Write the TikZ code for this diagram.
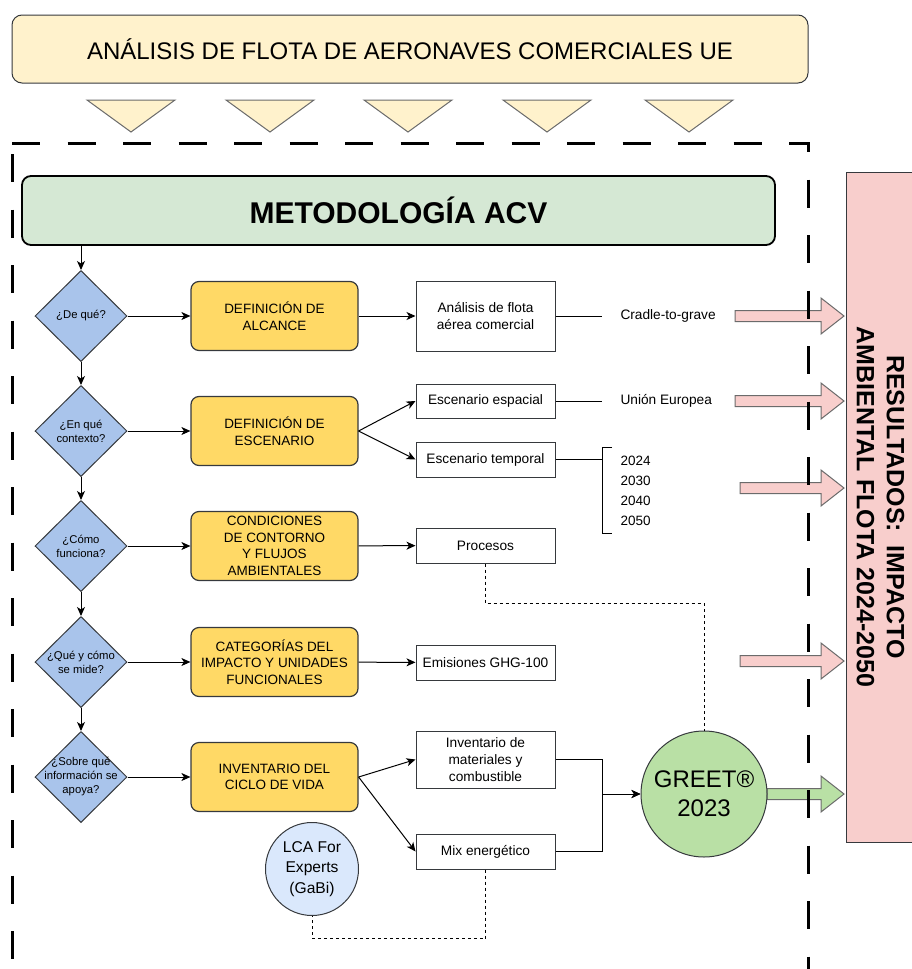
\documentclass[tikz,border=0pt]{standalone}
\usepackage{fontspec}
\setmainfont{Liberation Sans}
\usetikzlibrary{arrows.meta, positioning, shapes.geometric}
\definecolor{ccream}{HTML}{FFF2CC}
\definecolor{cmint}{HTML}{D5E8D4}
\definecolor{cblue}{HTML}{A9C4EB}
\definecolor{cyellow}{HTML}{FFD966}
\definecolor{cgreen}{HTML}{B9E0A5}
\definecolor{clight}{HTML}{DAE8FC}
\definecolor{cpink}{HTML}{F8CECC}
\definecolor{cdark}{HTML}{36393D}
\definecolor{cgrey}{HTML}{6B6B6B}
\tikzset{
  every picture/.style={line width=1pt},
  banner/.style={draw=cdark, fill=ccream, rounded corners=10pt, minimum width=796pt, minimum height=68pt, font=\fontsize{24}{28}\selectfont},
  header/.style={draw=black, fill=cmint, rounded corners=9pt, line width=1.8pt, minimum width=753pt, minimum height=69pt, font=\fontsize{30}{34}\selectfont\bfseries},
  pregunta/.style={diamond, draw=cdark, fill=cblue, minimum width=92pt, minimum height=91pt, inner sep=0pt, label={[qtext]center:#1}},
  qtext/.style={align=center, inner sep=0pt, font=\fontsize{11.3}{14}\selectfont},
  paso/.style={draw=cdark, fill=cyellow, rounded corners=8pt, line width=1.2pt, minimum width=167pt, minimum height=69pt, align=center, font=\fontsize{13.5}{16.5}\selectfont},
  wbox/.style={draw=cdark, fill=white, minimum width=139pt, minimum height=#1, inner sep=2pt, align=center, font=\fontsize{13.7}{16.8}\selectfont},
  wbox/.default=35pt,
  dato/.style={inner xsep=18pt, font=\fontsize{13.7}{16.8}\selectfont},
  tool/.style={circle, draw=cdark, fill=#1, inner sep=0pt, align=center},
  resultado/.style={draw=cdark, fill=cpink, rotate=-90, minimum width=670pt, minimum height=69pt, align=center, font=\fontsize{25}{30}\selectfont\bfseries},
  arrow/.style={-{Stealth[length=9pt, width=8pt, inset=2.5pt]}, draw=black},
  link/.style={draw=black, dash pattern=on 3pt off 3pt},
  limit/.style={draw=black, line width=3pt, dash pattern=on 28pt off 27.5pt},
  bigarrow/.style={draw=cgrey, fill=#1},
  tri/.style={draw=cgrey, fill=ccream},
}

\begin{document}
\begin{tikzpicture}[x=1pt, y=-1pt]
  \useasboundingbox (0,0) rectangle (912,969);
  % analisis de flota
  \node[banner] (flota) at (410,49) {ANÁLISIS DE FLOTA DE AERONAVES COMERCIALES UE};
  \foreach \x in {131,270,408,547,689}
    \draw[tri] (\x-44,100) -- (\x+44,100) -- (\x,132) -- cycle;
  % metodologia
  \node[header] (acv) at (398.5,210.5) {METODOLOGÍA ACV};
  \node[pregunta={¿De qué?}] (q1) at (81,316) {};
  \node[pregunta={¿En qué\\contexto?}] (q2) at (81,431) {};
  \node[pregunta={¿Cómo\\funciona?}] (q3) at (81,546) {};
  \node[pregunta={¿Qué y cómo\\se mide?}] (q4) at (81,662) {};
  \node[pregunta={¿Sobre qué\\información se\\apoya?}] (q5) at (81,777) {};
  \draw[arrow] (acv.south -| q1) -- (q1);
  \draw[arrow] (q1) -- (q2); \draw[arrow] (q2) -- (q3);
  \draw[arrow] (q3) -- (q4); \draw[arrow] (q4) -- (q5);
  % pasos
  \node[paso] (alcance) at (274.5,316) {DEFINICIÓN DE\\ALCANCE};
  \node[paso] (escenario) at (274.5,431) {DEFINICIÓN DE\\ESCENARIO};
  \node[paso] (contorno) at (274.5,546) {CONDICIONES\\DE CONTORNO\\Y FLUJOS\\AMBIENTALES};
  \node[paso] (impacto) at (274.5,662) {CATEGORÍAS DEL\\IMPACTO Y UNIDADES\\FUNCIONALES};
  \node[paso] (ciclo) at (274.5,777) {INVENTARIO DEL\\CICLO DE VIDA};
  \foreach \a/\b in {q1/alcance, q2/escenario, q3/contorno, q4/impacto, q5/ciclo}
    \draw[arrow] (\a) -- (\b);
  % salidas
  \node[wbox=70pt] (flotaA) at (485.5,316) {Análisis de flota\\aérea comercial};
  \node[wbox=34pt] (espacial) at (485.5,401) {Escenario espacial};
  \node[wbox] (temporal) at (485.5,459.5) {Escenario temporal};
  \node[wbox] (procesos) at (485.5,545.5) {Procesos};
  \node[wbox] (emisiones) at (485.5,662.5) {Emisiones GHG-100};
  \node[wbox=57pt] (inventario) at (485.5,759.5) {Inventario de\\materiales y\\combustible};
  \node[wbox] (mix) at (485.5,851.5) {Mix energético};
  \draw[arrow] (alcance) -- (flotaA);
  \draw[arrow] (escenario.east) -- (espacial.west);
  \draw[arrow] (escenario.east) -- (temporal.west);
  \draw[arrow] (contorno) -- (procesos);
  \draw[arrow] (impacto) -- (emisiones);
  \draw[arrow] (ciclo.east) -- (inventario.west);
  \draw[arrow] (ciclo.east) -- (mix.west);
  % datos
  \node[dato, anchor=west] (cradle) at (602,316) {Cradle-to-grave};
  \node[dato, anchor=west] (ue) at (602,401) {Unión Europea};
  \node[dato, anchor=west, align=left, inner ysep=8pt, font=\fontsize{13.5}{20}\selectfont] (anios) at (602,490.5) {2024\\2030\\2040\\2050};
  \draw (flotaA) -- (cradle);
  \draw (espacial) -- (ue);
  \draw (temporal.east) -- (temporal.east -| anios.west);
  \draw ([xshift=10pt]anios.north west) -- (anios.north west) -- (anios.south west) -- ([xshift=10pt]anios.south west);
  % resultados
  \node[resultado] (res) at (880.5,507) {RESULTADOS:\ \ IMPACTO\\AMBIENTAL FLOTA 2024-2050};
  \foreach \y/\x in {316/735, 401/735, 488/740, 661/740}
    \draw[bigarrow=cpink] (\x,\y-5.5) -- (821,\y-5.5) -- (821,\y-18) -- (844,\y) -- (821,\y+18) -- (821,\y+5.5) -- (\x,\y+5.5) -- cycle;
  \draw[bigarrow=cgreen] (767,788.5) -- (821,788.5) -- (821,776) -- (844,794) -- (821,812) -- (821,799.5) -- (767,799.5) -- cycle;
  % herramientas
  \node[tool=cgreen, minimum size=126pt, font=\fontsize{24}{29}\selectfont] (greet) at (704,794) {GREET®\\2023};
  \node[tool=clight, minimum size=93pt, font=\fontsize{15.6}{20.5}\selectfont] (lca) at (312,869) {LCA For\\Experts\\(GaBi)};
  \draw[arrow] (inventario.east) -- ++(47,0) |- (greet.west);
  \draw[arrow] (mix.east) -- ++(47,0) |- (greet.west);
  \draw[link] (procesos.south) -- ++(0,40) -| (greet.north);
  \draw[link] (mix.south) -- ++(0,69) -| (lca.south);
  % limite del sistema
  \draw[limit] (12,143) -- (808,143) -- (808,975);
  \draw[limit, dash phase=44.5pt] (12,143) -- (12,975);
\end{tikzpicture}
\end{document}
